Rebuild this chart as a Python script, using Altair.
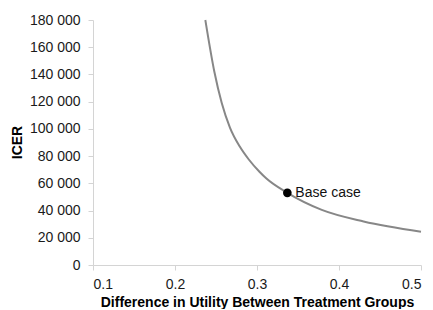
import altair as alt
import pandas as pd

# Curve
utility_diff = [0.237, 0.248, 0.257, 0.267, 0.279, 0.290, 0.303, 0.3115, 0.337, 0.379, 0.430, 0.500]
icer_values = [180000, 142000, 119000, 101000, 87000, 77500, 68500, 63500, 53000, 40500, 32000, 24500]

# Base case marker
base_x = [0.337]
base_y = [53000]
base_label = ["Base case"]

x_ticks = [0.1, 0.2, 0.3, 0.4, 0.5]
y_ticks = [0, 20000, 40000, 60000, 80000, 100000, 120000, 140000, 160000, 180000]

df = pd.DataFrame({"d": utility_diff, "icer": icer_values})
bdf = pd.DataFrame({"d": base_x, "icer": base_y, "label": base_label})

FONT = "Liberation Sans"

xscale = alt.Scale(domain=[0.1, 0.5], nice=False, zero=False)
yscale = alt.Scale(domain=[0, 180000], nice=False)

xaxis = alt.Axis(
    title="Difference in Utility Between Treatment Groups",
    values=x_ticks, format=".1f", grid=False, labelOverlap=False,
    labelPadding=7, titleY=41, titleBaseline="alphabetic",
)
yaxis = alt.Axis(
    title="ICER", values=y_ticks, grid=False, labelOverlap=False,
    labelExpr="replace(format(datum.value, ','), ',', ' ')",
    labelPadding=8, titleX=-76, titleY=122, titleAngle=270,
    titleAlign="center", titleBaseline="middle",
)

X = alt.X("d:Q", scale=xscale, axis=xaxis)
Y = alt.Y("icer:Q", scale=yscale, axis=yaxis)

line = alt.Chart(df).mark_line(color="#878787", strokeWidth=2, interpolate="monotone").encode(x=X, y=Y)
pt = alt.Chart(bdf).mark_point(filled=True, color="black", size=75, opacity=1).encode(x=X, y=Y)
txt = alt.Chart(bdf).mark_text(
    align="left", dx=8, dy=0, fontSize=14, font=FONT, baseline="middle", color="#111"
).encode(x=X, y=Y, text="label:N")

chart = (
    alt.layer(line, pt, txt)
    .properties(
        width=328, height=245,
        padding={"left": 85, "top": 12, "right": 4, "bottom": 44},
        autosize=alt.AutoSizeParams(type="none"),
    )
    .configure_view(stroke=None)
    .configure_axis(
        domainColor="#d4d4d4", tickColor="#d4d4d4", tickSize=5,
        labelFont=FONT, labelFontSize=14, labelColor="#1a1a1a",
        titleFont=FONT, titleFontSize=14, titleFontWeight="bold", titleColor="#000",
    )
)

chart.save("out.html", embed_options={"renderer": "svg", "actions": False})
